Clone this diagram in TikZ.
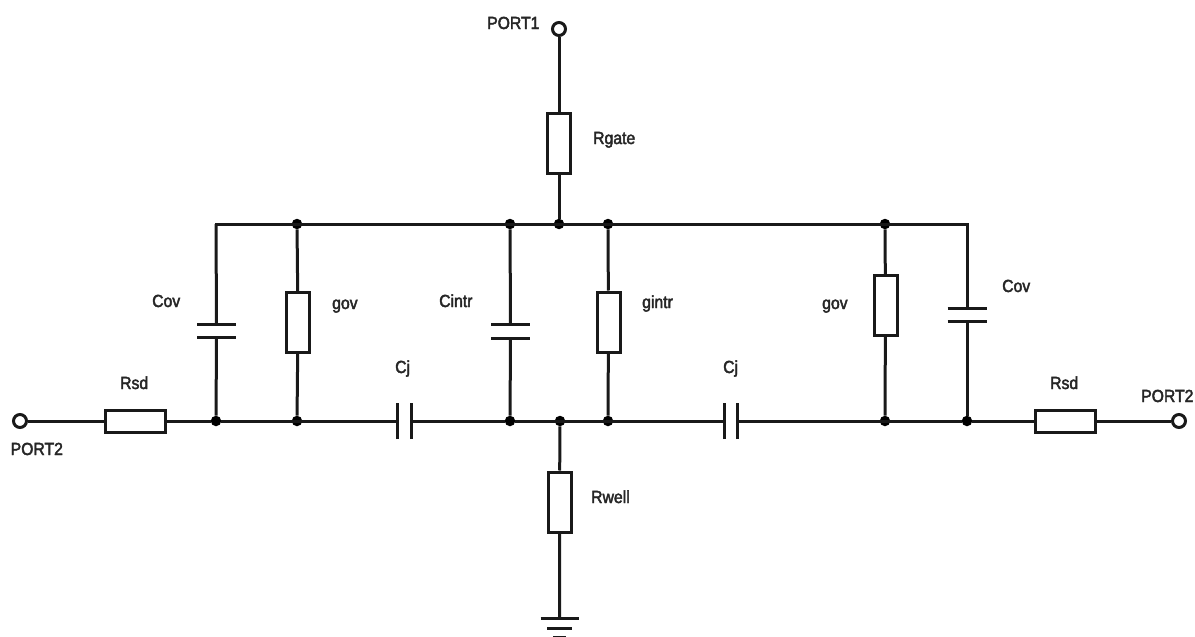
\documentclass[tikz,border=0pt]{standalone}
\usepackage{fontspec}
\setmainfont[FakeStretch=0.9,FakeBold=2.5]{Liberation Sans}
\begin{document}
\begin{tikzpicture}[x=1pt,y=-1pt,
  wire/.style={line width=3pt,draw=black!90},
  resv/.style={draw=black!90,line width=3pt,fill=white,rectangle,inner sep=0pt,minimum width=23pt,minimum height=60pt},
  resh/.style={draw=black!90,line width=3pt,fill=white,rectangle,inner sep=0pt,minimum width=60pt,minimum height=22pt},
  portc/.style={draw=black!90,line width=3pt,fill=white,circle,inner sep=0pt,minimum size=13pt},
  jdot/.style={fill=black,circle,inner sep=0pt,minimum size=10.5pt},
  plate/.style={line width=3pt,draw=black!90},
  lbl/.style={inner sep=0pt,font=\fontsize{17.5}{20}\selectfont,text=black!85}]
\useasboundingbox (0,0) rectangle (1195,637);
% ports
\node[portc] (p1) at (559,29) {};
\node[portc] (p2l) at (20,421) {};
\node[portc] (p2r) at (1179,421) {};
% resistors
\node[resv] (rgate) at (559,143) {};
\node[resv] (govl) at (298,322.5) {};
\node[resv] (gintr) at (608.5,322) {};
\node[resv] (govr) at (885.5,305.5) {};
\node[resv] (rwell) at (559.5,502) {};
\node[resh] (rsdl) at (135,421) {};
\node[resh] (rsdr) at (1065,421) {};
% junctions
\foreach \n/\x in {ta/297,tb/510,tc/559,td/608,te/885}
  \node[jdot] (\n) at (\x,224) {};
\coordinate (tl) at (216,224);
\coordinate (tr) at (967,224);
\foreach \n/\x in {ba/216,bb/297,bc/510,bd/560,be/608,bf/885,bg/967}
  \node[jdot] (\n) at (\x,421) {};
% capacitor plates
\coordinate (c1a) at (216.5,324); \coordinate (c1b) at (216.5,337);
\coordinate (c2a) at (510.5,324); \coordinate (c2b) at (510.5,338);
\coordinate (c3a) at (967,308); \coordinate (c3b) at (967,321);
\coordinate (j1a) at (397,421); \coordinate (j1b) at (411,421);
\coordinate (j2a) at (724,421); \coordinate (j2b) at (737,421);
\foreach \c in {c1a,c1b,c2a,c2b,c3a,c3b}
  \draw[plate] ([xshift=-19.5pt]\c) -- ([xshift=19.5pt]\c);
\foreach \c in {j1a,j1b,j2a,j2b}
  \draw[plate] ([yshift=-18pt]\c) -- ([yshift=18pt]\c);
% ground
\coordinate (g1) at (559.5,618);
\coordinate (g2) at (559.5,628);
\coordinate (g3) at (559.5,637);
\draw[plate] ([xshift=-19pt]g1) -- ([xshift=19pt]g1);
\draw[plate] ([xshift=-12.5pt]g2) -- ([xshift=12.5pt]g2);
\draw[plate] ([xshift=-6.5pt]g3) -- ([xshift=6.5pt]g3);
% wires
\draw[wire] (p1) -- (rgate) -- (tc);
\draw[wire,line cap=rect] (tl) -- (tr);
\draw[wire] (tl) -- (c1a) (c1b) -- (ba);
\draw[wire] (ta) -- (govl) -- (bb);
\draw[wire] (tb) -- (c2a) (c2b) -- (bc);
\draw[wire] (td) -- (gintr) -- (be);
\draw[wire] (te) -- (govr) -- (bf);
\draw[wire] (tr) -- (c3a) (c3b) -- (bg);
\draw[wire] (p2l) -- (rsdl) -- (ba) -- (j1a) (j1b) -- (bc) -- (j2a) (j2b) -- (bg) -- (rsdr) -- (p2r);
\draw[wire] (bd) -- (rwell) -- (g1);
% labels
\node[lbl,anchor=base west] (lp1) at (487,29) {PORT1};
\node[lbl,anchor=base west] (lp2l) at (10.5,455) {PORT2};
\node[lbl,anchor=base west] (lp2r) at (1141,402) {PORT2};
\node[lbl,anchor=base west] (lrgate) at (593,144) {Rgate};
\node[lbl,anchor=base west] (lrwell) at (591,503) {Rwell};
\node[lbl,anchor=base west] (lcovl) at (152,307) {Cov};
\node[lbl,anchor=base west] (lcovr) at (1002,292) {Cov};
\node[lbl,anchor=base west] (lgovl) at (332,309) {gov};
\node[lbl,anchor=base west] (lgovr) at (822,309) {gov};
\node[lbl,anchor=base west] (lcintr) at (439,307) {Cintr};
\node[lbl,anchor=base west] (lgintr) at (642,308) {gintr};
\node[lbl,anchor=base west] (lcj1) at (395,373) {Cj};
\node[lbl,anchor=base west] (lcj2) at (723,373) {Cj};
\node[lbl,anchor=base west] (lrsdl) at (120,389) {Rsd};
\node[lbl,anchor=base west] (lrsdr) at (1050,389) {Rsd};
\end{tikzpicture}
\end{document}
